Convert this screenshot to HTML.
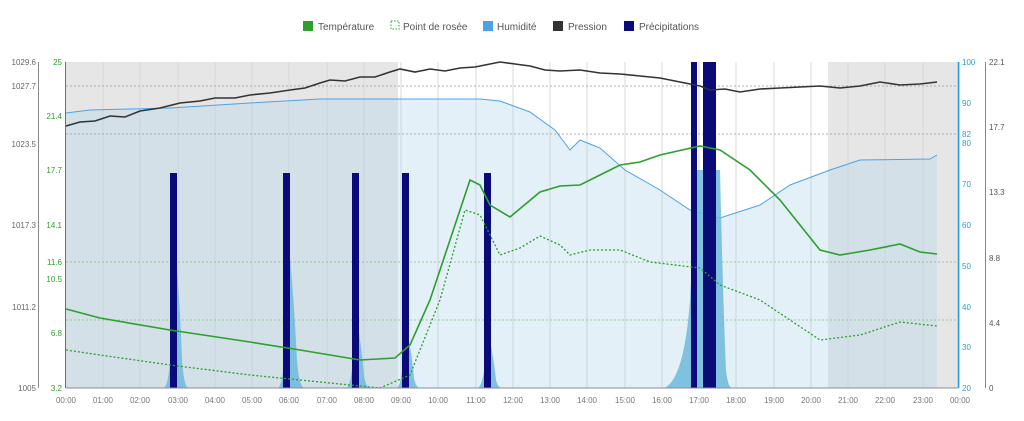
<!DOCTYPE html><html><head><style>body{margin:0;background:#fff}svg{font-family:"Liberation Sans",sans-serif}</style></head><body>
<svg width="1024" height="416" xmlns="http://www.w3.org/2000/svg">
<rect width="1024" height="416" fill="#fff"/>
<g font-size="10" fill="#555">
<rect x="303" y="21" width="10" height="10" fill="#2ca02c"/><text x="318" y="30">Température</text>
<rect x="391" y="21" width="8" height="8" fill="none" stroke="#2ca02c" stroke-dasharray="1.5,1.5"/><text x="403" y="30">Point de rosée</text>
<rect x="483" y="21" width="10" height="10" fill="#4aa3e8"/><text x="497" y="30">Humidité</text>
<rect x="553" y="21" width="10" height="10" fill="#333"/><text x="568" y="30">Pression</text>
<rect x="624" y="21" width="10" height="10" fill="#0a0a78"/><text x="639" y="30">Précipitations</text>
</g>
<rect x="66" y="62" width="332" height="326" fill="#e6e6e6"/>
<rect x="828" y="62" width="132" height="326" fill="#e6e6e6"/>
<g stroke="#d8d8d8" stroke-width="1">
<line x1="103" y1="62" x2="103" y2="388"/><line x1="140" y1="62" x2="140" y2="388"/><line x1="178" y1="62" x2="178" y2="388"/><line x1="215" y1="62" x2="215" y2="388"/><line x1="252" y1="62" x2="252" y2="388"/><line x1="289" y1="62" x2="289" y2="388"/><line x1="327" y1="62" x2="327" y2="388"/><line x1="364" y1="62" x2="364" y2="388"/><line x1="401" y1="62" x2="401" y2="388"/><line x1="438" y1="62" x2="438" y2="388"/><line x1="476" y1="62" x2="476" y2="388"/><line x1="513" y1="62" x2="513" y2="388"/><line x1="550" y1="62" x2="550" y2="388"/><line x1="587" y1="62" x2="587" y2="388"/><line x1="625" y1="62" x2="625" y2="388"/><line x1="662" y1="62" x2="662" y2="388"/><line x1="699" y1="62" x2="699" y2="388"/><line x1="736" y1="62" x2="736" y2="388"/><line x1="774" y1="62" x2="774" y2="388"/><line x1="811" y1="62" x2="811" y2="388"/><line x1="848" y1="62" x2="848" y2="388"/><line x1="885" y1="62" x2="885" y2="388"/><line x1="923" y1="62" x2="923" y2="388"/>
</g>
<polygon fill="#aed3ec" fill-opacity="0.35" points="66,388 66,113 90,110 170,108 250,103 320,99 400,99 480,99 500,101 530,112 555,130 570,150 580,140 600,148 625,170 660,190 690,210 720,218 760,205 790,185 830,170 860,160 930,159 937,155 937,388"/>
<polyline fill="none" stroke="#4aa3e8" stroke-width="1" points="66,113 90,110 170,108 250,103 320,99 400,99 480,99 500,101 530,112 555,130 570,150 580,140 600,148 625,170 660,190 690,210 720,218 760,205 790,185 830,170 860,160 930,159 937,155"/>
<g stroke="#999" stroke-dasharray="2,2" stroke-width="0.8">
<line x1="66" y1="86" x2="958" y2="86"/><line x1="66" y1="134" x2="958" y2="134"/>
</g>
<g stroke="#7fbf7f" stroke-dasharray="2,2" stroke-width="0.8">
<line x1="66" y1="262" x2="958" y2="262"/><line x1="66" y1="320" x2="958" y2="320"/>
</g>
<g fill="#6fb8dc" fill-opacity="0.85">
<path d="M164,388 Q170,384 172,330 L175,248 Q180,300 182,360 Q184,386 188,388Z"/>
<path d="M278,388 Q284,384 286,330 L289,245 Q294,300 297,360 Q299,386 304,388Z"/>
<path d="M347,388 Q352,384 354,340 L357,320 Q362,350 364,375 Q366,388 370,388Z"/>
<path d="M397,388 Q402,384 404,350 L407,330 Q412,355 414,378 Q416,388 420,388Z"/>
<path d="M478,388 Q484,384 486,350 L489,335 Q494,360 496,380 Q498,388 502,388Z"/>
<path d="M664,388 Q684,380 690,300 L697,170 L720,170 Q723,300 726,370 Q728,388 732,388Z"/>
</g>
<g fill="#0a0a78">
<rect x="170" y="173" width="7" height="215"/><rect x="283" y="173" width="7" height="215"/><rect x="352" y="173" width="7" height="215"/><rect x="402" y="173" width="7" height="215"/><rect x="484" y="173" width="7" height="215"/><rect x="691" y="62" width="6" height="326"/><rect x="703" y="62" width="13" height="326"/>
</g>
<polyline fill="none" stroke="#333" stroke-width="1.6" points="66,126 80,122 95,121 110,116 125,117 140,111 160,108 180,103 200,101 215,98 235,98 250,95 270,93 290,90 305,88 320,83 330,80 345,81 360,77 375,77 390,72 400,69 415,72 430,69 445,71 460,68 475,67 490,64 500,62 515,64 530,66 545,70 560,71 580,70 600,73 620,74 640,76 660,78 680,82 700,86 710,90 725,89 740,92 760,89 780,88 800,87 820,86 840,88 860,86 880,82 900,85 920,84 937,82"/>
<polyline fill="none" stroke="#2ca02c" stroke-width="1.6" points="66,309 100,318 170,330 250,342 300,350 360,360 395,358 410,345 430,300 450,240 470,180 480,185 490,205 510,217 540,192 560,186 580,185 600,175 620,165 640,162 660,155 700,146 720,150 750,170 780,200 800,225 820,250 840,255 870,250 900,244 920,252 937,254"/>
<polyline fill="none" stroke="#2ca02c" stroke-width="1.3" stroke-dasharray="2,2" points="66,350 100,355 170,365 250,375 330,383 380,388 410,375 440,300 465,210 480,215 500,255 520,248 540,236 560,245 570,255 590,250 620,250 650,262 700,268 720,285 760,300 790,320 820,340 860,335 900,322 937,326"/>
<line x1="66" y1="388" x2="958" y2="388" stroke="#8888aa"/>
<line x1="65.5" y1="62" x2="65.5" y2="388" stroke="#2ca02c"/>
<line x1="38.5" y1="62" x2="38.5" y2="388" stroke="#888"/>
<line x1="958.5" y1="62" x2="958.5" y2="388" stroke="#2a9bd8" stroke-width="1.5"/>
<line x1="985.5" y1="62" x2="985.5" y2="388" stroke="#888"/>
<g font-size="8" fill="#666" text-anchor="end">
<text x="36" y="65">1029.6</text><text x="36" y="89">1027.7</text><text x="36" y="147">1023.5</text><text x="36" y="228">1017.3</text><text x="36" y="310">1011.2</text><text x="36" y="391">1005</text>
</g>
<g font-size="8" fill="#2ca02c" text-anchor="end">
<text x="62" y="65">25</text><text x="62" y="119">21.4</text><text x="62" y="173">17.7</text><text x="62" y="228">14.1</text><text x="62" y="265">11.6</text><text x="62" y="282">10.5</text><text x="62" y="336">6.8</text><text x="62" y="391">3.2</text>
</g>
<g font-size="8" fill="#2a9bd8">
<text x="962" y="65">100</text><text x="962" y="106">90</text><text x="962" y="137">82</text><text x="962" y="146">80</text><text x="962" y="187">70</text><text x="962" y="228">60</text><text x="962" y="269">50</text><text x="962" y="310">40</text><text x="962" y="350">30</text><text x="962" y="391">20</text>
</g>
<g font-size="8" fill="#555">
<text x="989" y="65">22.1</text><text x="989" y="130">17.7</text><text x="989" y="195">13.3</text><text x="989" y="261">8.8</text><text x="989" y="326">4.4</text><text x="989" y="391">0</text>
</g>
<g font-size="8" fill="#777" text-anchor="middle">
<text x="66" y="403">00:00</text><text x="103" y="403">01:00</text><text x="140" y="403">02:00</text><text x="178" y="403">03:00</text><text x="215" y="403">04:00</text><text x="252" y="403">05:00</text><text x="289" y="403">06:00</text><text x="327" y="403">07:00</text><text x="364" y="403">08:00</text><text x="401" y="403">09:00</text><text x="438" y="403">10:00</text><text x="476" y="403">11:00</text><text x="513" y="403">12:00</text><text x="550" y="403">13:00</text><text x="587" y="403">14:00</text><text x="625" y="403">15:00</text><text x="662" y="403">16:00</text><text x="699" y="403">17:00</text><text x="736" y="403">18:00</text><text x="774" y="403">19:00</text><text x="811" y="403">20:00</text><text x="848" y="403">21:00</text><text x="885" y="403">22:00</text><text x="923" y="403">23:00</text><text x="960" y="403">00:00</text>
</g>
</svg>
</body></html>
